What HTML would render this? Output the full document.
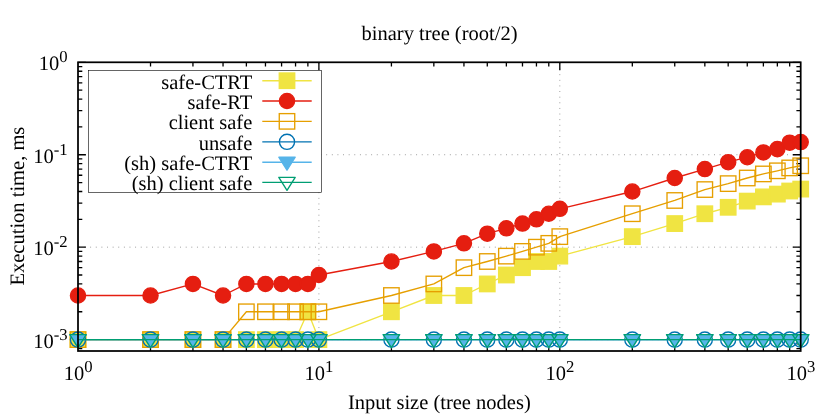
<!DOCTYPE html>
<html><head><meta charset="utf-8"><title>binary tree (root/2)</title>
<style>html,body{margin:0;padding:0;background:#fff}svg{display:block;will-change:transform}text{text-rendering:geometricPrecision;font-family:"Liberation Serif",serif;fill:#000}</style></head><body>
<svg width="830" height="415" viewBox="0 0 830 415">
<rect width="830" height="415" fill="#fff"/>
<path d="M318.90 62.30V351.00M559.80 62.30V351.00" fill="none" stroke="#858585" stroke-width="0.85" stroke-dasharray="0.9 4.72" stroke-dashoffset="-0.7"/>
<path d="M78.00 154.73H800.70M78.00 247.17H800.70M78.00 339.60H800.70" fill="none" stroke="#858585" stroke-width="0.85" stroke-dasharray="0.9 4.72" stroke-dashoffset="-0.95"/>
<path d="M150.52 351.00v-4.3M150.52 62.30v4.3M192.94 351.00v-4.3M192.94 62.30v4.3M223.04 351.00v-4.3M223.04 62.30v4.3M246.38 351.00v-4.3M246.38 62.30v4.3M265.46 351.00v-4.3M265.46 62.30v4.3M281.58 351.00v-4.3M281.58 62.30v4.3M295.55 351.00v-4.3M295.55 62.30v4.3M307.88 351.00v-4.3M307.88 62.30v4.3M318.90 351.00v-7.9M318.90 62.30v7.9M391.42 351.00v-4.3M391.42 62.30v4.3M433.84 351.00v-4.3M433.84 62.30v4.3M463.94 351.00v-4.3M463.94 62.30v4.3M487.28 351.00v-4.3M487.28 62.30v4.3M506.36 351.00v-4.3M506.36 62.30v4.3M522.48 351.00v-4.3M522.48 62.30v4.3M536.45 351.00v-4.3M536.45 62.30v4.3M548.78 351.00v-4.3M548.78 62.30v4.3M559.80 351.00v-7.9M559.80 62.30v7.9M632.32 351.00v-4.3M632.32 62.30v4.3M674.74 351.00v-4.3M674.74 62.30v4.3M704.84 351.00v-4.3M704.84 62.30v4.3M728.18 351.00v-4.3M728.18 62.30v4.3M747.26 351.00v-4.3M747.26 62.30v4.3M763.38 351.00v-4.3M763.38 62.30v4.3M777.35 351.00v-4.3M777.35 62.30v4.3M789.68 351.00v-4.3M789.68 62.30v4.3M78.00 348.56h4.3M800.70 348.56h-4.3M78.00 343.83h4.3M800.70 343.83h-4.3M78.00 339.60h7.9M800.70 339.60h-7.9M78.00 311.77h4.3M800.70 311.77h-4.3M78.00 295.50h4.3M800.70 295.50h-4.3M78.00 283.95h4.3M800.70 283.95h-4.3M78.00 274.99h4.3M800.70 274.99h-4.3M78.00 267.67h4.3M800.70 267.67h-4.3M78.00 261.48h4.3M800.70 261.48h-4.3M78.00 256.12h4.3M800.70 256.12h-4.3M78.00 251.40h4.3M800.70 251.40h-4.3M78.00 247.17h7.9M800.70 247.17h-7.9M78.00 219.34h4.3M800.70 219.34h-4.3M78.00 203.06h4.3M800.70 203.06h-4.3M78.00 191.52h4.3M800.70 191.52h-4.3M78.00 182.56h4.3M800.70 182.56h-4.3M78.00 175.24h4.3M800.70 175.24h-4.3M78.00 169.05h4.3M800.70 169.05h-4.3M78.00 163.69h4.3M800.70 163.69h-4.3M78.00 158.96h4.3M800.70 158.96h-4.3M78.00 154.73h7.9M800.70 154.73h-7.9M78.00 126.91h4.3M800.70 126.91h-4.3M78.00 110.63h4.3M800.70 110.63h-4.3M78.00 99.08h4.3M800.70 99.08h-4.3M78.00 90.13h4.3M800.70 90.13h-4.3M78.00 82.81h4.3M800.70 82.81h-4.3M78.00 76.62h4.3M800.70 76.62h-4.3M78.00 71.26h4.3M800.70 71.26h-4.3M78.00 66.53h4.3M800.70 66.53h-4.3M78.00 62.30h7.9M800.70 62.30h-7.9" fill="none" stroke="#000" stroke-width="1.3"/>
<rect x="88.5" y="70.45" width="233.10000000000002" height="121.85000000000001" fill="#fff" stroke="none"/>
<text x="252.3" y="88.55" font-size="20.5" text-anchor="end">safe-CTRT</text>
<path d="M262.3 80.70H311.7" stroke="#F0E442" stroke-width="1.35" fill="none"/>
<rect x="279.27" y="72.98" width="15.45" height="15.45" fill="#F0E442" stroke="#F0E442" stroke-width="1.35"/>
<polyline points="78.00,339.60 150.52,339.60 192.94,339.60 223.04,339.60 246.38,339.60 265.46,339.60 281.58,339.60 295.55,339.60 307.88,311.77 318.90,339.60 391.42,311.77 433.84,295.50 463.94,295.50 487.28,283.95 506.36,274.99 522.48,267.67 536.45,261.48 548.78,261.48 559.80,256.12 632.32,236.63 674.74,223.57 704.84,213.73 728.18,207.29 747.26,201.11 763.38,196.88 777.35,194.11 789.68,191.02 800.70,189.08" fill="none" stroke="#F0E442" stroke-width="1.35" stroke-linejoin="round"/>
<rect x="70.28" y="331.88" width="15.45" height="15.45" fill="#F0E442" stroke="#F0E442" stroke-width="1.35"/>
<rect x="142.79" y="331.88" width="15.45" height="15.45" fill="#F0E442" stroke="#F0E442" stroke-width="1.35"/>
<rect x="185.21" y="331.88" width="15.45" height="15.45" fill="#F0E442" stroke="#F0E442" stroke-width="1.35"/>
<rect x="215.31" y="331.88" width="15.45" height="15.45" fill="#F0E442" stroke="#F0E442" stroke-width="1.35"/>
<rect x="238.66" y="331.88" width="15.45" height="15.45" fill="#F0E442" stroke="#F0E442" stroke-width="1.35"/>
<rect x="257.73" y="331.88" width="15.45" height="15.45" fill="#F0E442" stroke="#F0E442" stroke-width="1.35"/>
<rect x="273.86" y="331.88" width="15.45" height="15.45" fill="#F0E442" stroke="#F0E442" stroke-width="1.35"/>
<rect x="287.83" y="331.88" width="15.45" height="15.45" fill="#F0E442" stroke="#F0E442" stroke-width="1.35"/>
<rect x="300.15" y="304.05" width="15.45" height="15.45" fill="#F0E442" stroke="#F0E442" stroke-width="1.35"/>
<rect x="311.17" y="331.88" width="15.45" height="15.45" fill="#F0E442" stroke="#F0E442" stroke-width="1.35"/>
<rect x="383.69" y="304.05" width="15.45" height="15.45" fill="#F0E442" stroke="#F0E442" stroke-width="1.35"/>
<rect x="426.11" y="287.77" width="15.45" height="15.45" fill="#F0E442" stroke="#F0E442" stroke-width="1.35"/>
<rect x="456.21" y="287.77" width="15.45" height="15.45" fill="#F0E442" stroke="#F0E442" stroke-width="1.35"/>
<rect x="479.56" y="276.22" width="15.45" height="15.45" fill="#F0E442" stroke="#F0E442" stroke-width="1.35"/>
<rect x="498.63" y="267.27" width="15.45" height="15.45" fill="#F0E442" stroke="#F0E442" stroke-width="1.35"/>
<rect x="514.76" y="259.95" width="15.45" height="15.45" fill="#F0E442" stroke="#F0E442" stroke-width="1.35"/>
<rect x="528.73" y="253.76" width="15.45" height="15.45" fill="#F0E442" stroke="#F0E442" stroke-width="1.35"/>
<rect x="541.05" y="253.76" width="15.45" height="15.45" fill="#F0E442" stroke="#F0E442" stroke-width="1.35"/>
<rect x="552.07" y="248.40" width="15.45" height="15.45" fill="#F0E442" stroke="#F0E442" stroke-width="1.35"/>
<rect x="624.59" y="228.91" width="15.45" height="15.45" fill="#F0E442" stroke="#F0E442" stroke-width="1.35"/>
<rect x="667.01" y="215.85" width="15.45" height="15.45" fill="#F0E442" stroke="#F0E442" stroke-width="1.35"/>
<rect x="697.11" y="206.01" width="15.45" height="15.45" fill="#F0E442" stroke="#F0E442" stroke-width="1.35"/>
<rect x="720.46" y="199.57" width="15.45" height="15.45" fill="#F0E442" stroke="#F0E442" stroke-width="1.35"/>
<rect x="739.53" y="193.38" width="15.45" height="15.45" fill="#F0E442" stroke="#F0E442" stroke-width="1.35"/>
<rect x="755.66" y="189.15" width="15.45" height="15.45" fill="#F0E442" stroke="#F0E442" stroke-width="1.35"/>
<rect x="769.63" y="186.38" width="15.45" height="15.45" fill="#F0E442" stroke="#F0E442" stroke-width="1.35"/>
<rect x="781.95" y="183.29" width="15.45" height="15.45" fill="#F0E442" stroke="#F0E442" stroke-width="1.35"/>
<rect x="792.98" y="181.36" width="15.45" height="15.45" fill="#F0E442" stroke="#F0E442" stroke-width="1.35"/>
<text x="252.3" y="108.85" font-size="20.5" text-anchor="end">safe-RT</text>
<path d="M262.3 101.00H311.7" stroke="#E51E10" stroke-width="1.35" fill="none"/>
<circle cx="287.00" cy="101.00" r="7.59" fill="#E51E10" stroke="#E51E10" stroke-width="1.35"/>
<polyline points="78.00,295.50 150.52,295.50 192.94,283.95 223.04,295.50 246.38,283.95 265.46,283.95 281.58,283.95 295.55,283.95 307.88,283.95 318.90,274.99 391.42,261.48 433.84,251.40 463.94,243.34 487.28,233.66 506.36,228.30 522.48,223.57 536.45,219.34 548.78,213.73 559.80,208.81 632.32,191.52 674.74,178.01 704.84,169.05 728.18,162.21 747.26,157.22 763.38,152.39 777.35,149.12 789.68,142.69 800.70,142.10" fill="none" stroke="#E51E10" stroke-width="1.35" stroke-linejoin="round"/>
<circle cx="78.00" cy="295.50" r="7.59" fill="#E51E10" stroke="#E51E10" stroke-width="1.35"/>
<circle cx="150.52" cy="295.50" r="7.59" fill="#E51E10" stroke="#E51E10" stroke-width="1.35"/>
<circle cx="192.94" cy="283.95" r="7.59" fill="#E51E10" stroke="#E51E10" stroke-width="1.35"/>
<circle cx="223.04" cy="295.50" r="7.59" fill="#E51E10" stroke="#E51E10" stroke-width="1.35"/>
<circle cx="246.38" cy="283.95" r="7.59" fill="#E51E10" stroke="#E51E10" stroke-width="1.35"/>
<circle cx="265.46" cy="283.95" r="7.59" fill="#E51E10" stroke="#E51E10" stroke-width="1.35"/>
<circle cx="281.58" cy="283.95" r="7.59" fill="#E51E10" stroke="#E51E10" stroke-width="1.35"/>
<circle cx="295.55" cy="283.95" r="7.59" fill="#E51E10" stroke="#E51E10" stroke-width="1.35"/>
<circle cx="307.88" cy="283.95" r="7.59" fill="#E51E10" stroke="#E51E10" stroke-width="1.35"/>
<circle cx="318.90" cy="274.99" r="7.59" fill="#E51E10" stroke="#E51E10" stroke-width="1.35"/>
<circle cx="391.42" cy="261.48" r="7.59" fill="#E51E10" stroke="#E51E10" stroke-width="1.35"/>
<circle cx="433.84" cy="251.40" r="7.59" fill="#E51E10" stroke="#E51E10" stroke-width="1.35"/>
<circle cx="463.94" cy="243.34" r="7.59" fill="#E51E10" stroke="#E51E10" stroke-width="1.35"/>
<circle cx="487.28" cy="233.66" r="7.59" fill="#E51E10" stroke="#E51E10" stroke-width="1.35"/>
<circle cx="506.36" cy="228.30" r="7.59" fill="#E51E10" stroke="#E51E10" stroke-width="1.35"/>
<circle cx="522.48" cy="223.57" r="7.59" fill="#E51E10" stroke="#E51E10" stroke-width="1.35"/>
<circle cx="536.45" cy="219.34" r="7.59" fill="#E51E10" stroke="#E51E10" stroke-width="1.35"/>
<circle cx="548.78" cy="213.73" r="7.59" fill="#E51E10" stroke="#E51E10" stroke-width="1.35"/>
<circle cx="559.80" cy="208.81" r="7.59" fill="#E51E10" stroke="#E51E10" stroke-width="1.35"/>
<circle cx="632.32" cy="191.52" r="7.59" fill="#E51E10" stroke="#E51E10" stroke-width="1.35"/>
<circle cx="674.74" cy="178.01" r="7.59" fill="#E51E10" stroke="#E51E10" stroke-width="1.35"/>
<circle cx="704.84" cy="169.05" r="7.59" fill="#E51E10" stroke="#E51E10" stroke-width="1.35"/>
<circle cx="728.18" cy="162.21" r="7.59" fill="#E51E10" stroke="#E51E10" stroke-width="1.35"/>
<circle cx="747.26" cy="157.22" r="7.59" fill="#E51E10" stroke="#E51E10" stroke-width="1.35"/>
<circle cx="763.38" cy="152.39" r="7.59" fill="#E51E10" stroke="#E51E10" stroke-width="1.35"/>
<circle cx="777.35" cy="149.12" r="7.59" fill="#E51E10" stroke="#E51E10" stroke-width="1.35"/>
<circle cx="789.68" cy="142.69" r="7.59" fill="#E51E10" stroke="#E51E10" stroke-width="1.35"/>
<circle cx="800.70" cy="142.10" r="7.59" fill="#E51E10" stroke="#E51E10" stroke-width="1.35"/>
<text x="252.3" y="129.20" font-size="20.5" text-anchor="end">client safe</text>
<path d="M262.3 121.35H311.7" stroke="#E69F00" stroke-width="1.35" fill="none"/>
<rect x="279.27" y="113.62" width="15.45" height="15.45" fill="none" stroke="#E69F00" stroke-width="1.35"/>
<polyline points="78.00,339.60 150.52,339.60 192.94,339.60 223.04,339.60 246.38,311.77 265.46,311.77 281.58,311.77 295.55,311.77 307.88,311.77 318.90,311.77 391.42,295.50 433.84,283.95 463.94,267.67 487.28,261.48 506.36,256.12 522.48,251.40 536.45,247.17 548.78,243.34 559.80,236.63 632.32,213.73 674.74,200.47 704.84,189.56 728.18,183.62 747.26,178.01 763.38,173.92 777.35,170.81 789.68,167.92 800.70,165.75" fill="none" stroke="#E69F00" stroke-width="1.35" stroke-linejoin="round"/>
<rect x="70.28" y="331.88" width="15.45" height="15.45" fill="none" stroke="#E69F00" stroke-width="1.35"/>
<rect x="142.79" y="331.88" width="15.45" height="15.45" fill="none" stroke="#E69F00" stroke-width="1.35"/>
<rect x="185.21" y="331.88" width="15.45" height="15.45" fill="none" stroke="#E69F00" stroke-width="1.35"/>
<rect x="215.31" y="331.88" width="15.45" height="15.45" fill="none" stroke="#E69F00" stroke-width="1.35"/>
<rect x="238.66" y="304.05" width="15.45" height="15.45" fill="none" stroke="#E69F00" stroke-width="1.35"/>
<rect x="257.73" y="304.05" width="15.45" height="15.45" fill="none" stroke="#E69F00" stroke-width="1.35"/>
<rect x="273.86" y="304.05" width="15.45" height="15.45" fill="none" stroke="#E69F00" stroke-width="1.35"/>
<rect x="287.83" y="304.05" width="15.45" height="15.45" fill="none" stroke="#E69F00" stroke-width="1.35"/>
<rect x="300.15" y="304.05" width="15.45" height="15.45" fill="none" stroke="#E69F00" stroke-width="1.35"/>
<rect x="311.17" y="304.05" width="15.45" height="15.45" fill="none" stroke="#E69F00" stroke-width="1.35"/>
<rect x="383.69" y="287.77" width="15.45" height="15.45" fill="none" stroke="#E69F00" stroke-width="1.35"/>
<rect x="426.11" y="276.22" width="15.45" height="15.45" fill="none" stroke="#E69F00" stroke-width="1.35"/>
<rect x="456.21" y="259.95" width="15.45" height="15.45" fill="none" stroke="#E69F00" stroke-width="1.35"/>
<rect x="479.56" y="253.76" width="15.45" height="15.45" fill="none" stroke="#E69F00" stroke-width="1.35"/>
<rect x="498.63" y="248.40" width="15.45" height="15.45" fill="none" stroke="#E69F00" stroke-width="1.35"/>
<rect x="514.76" y="243.67" width="15.45" height="15.45" fill="none" stroke="#E69F00" stroke-width="1.35"/>
<rect x="528.73" y="239.44" width="15.45" height="15.45" fill="none" stroke="#E69F00" stroke-width="1.35"/>
<rect x="541.05" y="235.62" width="15.45" height="15.45" fill="none" stroke="#E69F00" stroke-width="1.35"/>
<rect x="552.07" y="228.91" width="15.45" height="15.45" fill="none" stroke="#E69F00" stroke-width="1.35"/>
<rect x="624.59" y="206.01" width="15.45" height="15.45" fill="none" stroke="#E69F00" stroke-width="1.35"/>
<rect x="667.01" y="192.75" width="15.45" height="15.45" fill="none" stroke="#E69F00" stroke-width="1.35"/>
<rect x="697.11" y="181.83" width="15.45" height="15.45" fill="none" stroke="#E69F00" stroke-width="1.35"/>
<rect x="720.46" y="175.89" width="15.45" height="15.45" fill="none" stroke="#E69F00" stroke-width="1.35"/>
<rect x="739.53" y="170.28" width="15.45" height="15.45" fill="none" stroke="#E69F00" stroke-width="1.35"/>
<rect x="755.66" y="166.20" width="15.45" height="15.45" fill="none" stroke="#E69F00" stroke-width="1.35"/>
<rect x="769.63" y="163.08" width="15.45" height="15.45" fill="none" stroke="#E69F00" stroke-width="1.35"/>
<rect x="781.95" y="160.20" width="15.45" height="15.45" fill="none" stroke="#E69F00" stroke-width="1.35"/>
<rect x="792.98" y="158.03" width="15.45" height="15.45" fill="none" stroke="#E69F00" stroke-width="1.35"/>
<text x="252.3" y="149.65" font-size="20.5" text-anchor="end">unsafe</text>
<path d="M262.3 141.80H311.7" stroke="#0072B2" stroke-width="1.35" fill="none"/>
<circle cx="287.00" cy="141.80" r="7.59" fill="none" stroke="#0072B2" stroke-width="1.35"/>
<polyline points="78.00,339.60 150.52,339.60 192.94,339.60 223.04,339.60 246.38,339.60 265.46,339.60 281.58,339.60 295.55,339.60 307.88,339.60 318.90,339.60 391.42,339.60 433.84,339.60 463.94,339.60 487.28,339.60 506.36,339.60 522.48,339.60 536.45,339.60 548.78,339.60 559.80,339.60 632.32,339.60 674.74,339.60 704.84,339.60 728.18,339.60 747.26,339.60 763.38,339.60 777.35,339.60 789.68,339.60 800.70,339.60" fill="none" stroke="#0072B2" stroke-width="1.35" stroke-linejoin="round"/>
<circle cx="78.00" cy="339.60" r="7.59" fill="none" stroke="#0072B2" stroke-width="1.35"/>
<circle cx="150.52" cy="339.60" r="7.59" fill="none" stroke="#0072B2" stroke-width="1.35"/>
<circle cx="192.94" cy="339.60" r="7.59" fill="none" stroke="#0072B2" stroke-width="1.35"/>
<circle cx="223.04" cy="339.60" r="7.59" fill="none" stroke="#0072B2" stroke-width="1.35"/>
<circle cx="246.38" cy="339.60" r="7.59" fill="none" stroke="#0072B2" stroke-width="1.35"/>
<circle cx="265.46" cy="339.60" r="7.59" fill="none" stroke="#0072B2" stroke-width="1.35"/>
<circle cx="281.58" cy="339.60" r="7.59" fill="none" stroke="#0072B2" stroke-width="1.35"/>
<circle cx="295.55" cy="339.60" r="7.59" fill="none" stroke="#0072B2" stroke-width="1.35"/>
<circle cx="307.88" cy="339.60" r="7.59" fill="none" stroke="#0072B2" stroke-width="1.35"/>
<circle cx="318.90" cy="339.60" r="7.59" fill="none" stroke="#0072B2" stroke-width="1.35"/>
<circle cx="391.42" cy="339.60" r="7.59" fill="none" stroke="#0072B2" stroke-width="1.35"/>
<circle cx="433.84" cy="339.60" r="7.59" fill="none" stroke="#0072B2" stroke-width="1.35"/>
<circle cx="463.94" cy="339.60" r="7.59" fill="none" stroke="#0072B2" stroke-width="1.35"/>
<circle cx="487.28" cy="339.60" r="7.59" fill="none" stroke="#0072B2" stroke-width="1.35"/>
<circle cx="506.36" cy="339.60" r="7.59" fill="none" stroke="#0072B2" stroke-width="1.35"/>
<circle cx="522.48" cy="339.60" r="7.59" fill="none" stroke="#0072B2" stroke-width="1.35"/>
<circle cx="536.45" cy="339.60" r="7.59" fill="none" stroke="#0072B2" stroke-width="1.35"/>
<circle cx="548.78" cy="339.60" r="7.59" fill="none" stroke="#0072B2" stroke-width="1.35"/>
<circle cx="559.80" cy="339.60" r="7.59" fill="none" stroke="#0072B2" stroke-width="1.35"/>
<circle cx="632.32" cy="339.60" r="7.59" fill="none" stroke="#0072B2" stroke-width="1.35"/>
<circle cx="674.74" cy="339.60" r="7.59" fill="none" stroke="#0072B2" stroke-width="1.35"/>
<circle cx="704.84" cy="339.60" r="7.59" fill="none" stroke="#0072B2" stroke-width="1.35"/>
<circle cx="728.18" cy="339.60" r="7.59" fill="none" stroke="#0072B2" stroke-width="1.35"/>
<circle cx="747.26" cy="339.60" r="7.59" fill="none" stroke="#0072B2" stroke-width="1.35"/>
<circle cx="763.38" cy="339.60" r="7.59" fill="none" stroke="#0072B2" stroke-width="1.35"/>
<circle cx="777.35" cy="339.60" r="7.59" fill="none" stroke="#0072B2" stroke-width="1.35"/>
<circle cx="789.68" cy="339.60" r="7.59" fill="none" stroke="#0072B2" stroke-width="1.35"/>
<circle cx="800.70" cy="339.60" r="7.59" fill="none" stroke="#0072B2" stroke-width="1.35"/>
<text x="252.3" y="170.10" font-size="20.5" text-anchor="end">(sh) safe-CTRT</text>
<path d="M262.3 162.25H311.7" stroke="#56B4E9" stroke-width="1.35" fill="none"/>
<path d="M278.80 157.25h16.4L287.00 170.25Z" fill="#56B4E9" stroke="#56B4E9" stroke-width="1.35" stroke-linejoin="round"/>
<polyline points="78.00,339.60 150.52,339.60 192.94,339.60 223.04,339.60 246.38,339.60 265.46,339.60 281.58,339.60 295.55,339.60 307.88,339.60 318.90,339.60 391.42,339.60 433.84,339.60 463.94,339.60 487.28,339.60 506.36,339.60 522.48,339.60 536.45,339.60 548.78,339.60 559.80,339.60 632.32,339.60 674.74,339.60 704.84,339.60 728.18,339.60 747.26,339.60 763.38,339.60 777.35,339.60 789.68,339.60 800.70,339.60" fill="none" stroke="#56B4E9" stroke-width="1.35" stroke-linejoin="round"/>
<path d="M69.80 334.60h16.4L78.00 347.60Z" fill="#56B4E9" stroke="#56B4E9" stroke-width="1.35" stroke-linejoin="round"/>
<path d="M142.32 334.60h16.4L150.52 347.60Z" fill="#56B4E9" stroke="#56B4E9" stroke-width="1.35" stroke-linejoin="round"/>
<path d="M184.74 334.60h16.4L192.94 347.60Z" fill="#56B4E9" stroke="#56B4E9" stroke-width="1.35" stroke-linejoin="round"/>
<path d="M214.84 334.60h16.4L223.04 347.60Z" fill="#56B4E9" stroke="#56B4E9" stroke-width="1.35" stroke-linejoin="round"/>
<path d="M238.18 334.60h16.4L246.38 347.60Z" fill="#56B4E9" stroke="#56B4E9" stroke-width="1.35" stroke-linejoin="round"/>
<path d="M257.26 334.60h16.4L265.46 347.60Z" fill="#56B4E9" stroke="#56B4E9" stroke-width="1.35" stroke-linejoin="round"/>
<path d="M273.38 334.60h16.4L281.58 347.60Z" fill="#56B4E9" stroke="#56B4E9" stroke-width="1.35" stroke-linejoin="round"/>
<path d="M287.35 334.60h16.4L295.55 347.60Z" fill="#56B4E9" stroke="#56B4E9" stroke-width="1.35" stroke-linejoin="round"/>
<path d="M299.68 334.60h16.4L307.88 347.60Z" fill="#56B4E9" stroke="#56B4E9" stroke-width="1.35" stroke-linejoin="round"/>
<path d="M310.70 334.60h16.4L318.90 347.60Z" fill="#56B4E9" stroke="#56B4E9" stroke-width="1.35" stroke-linejoin="round"/>
<path d="M383.22 334.60h16.4L391.42 347.60Z" fill="#56B4E9" stroke="#56B4E9" stroke-width="1.35" stroke-linejoin="round"/>
<path d="M425.64 334.60h16.4L433.84 347.60Z" fill="#56B4E9" stroke="#56B4E9" stroke-width="1.35" stroke-linejoin="round"/>
<path d="M455.74 334.60h16.4L463.94 347.60Z" fill="#56B4E9" stroke="#56B4E9" stroke-width="1.35" stroke-linejoin="round"/>
<path d="M479.08 334.60h16.4L487.28 347.60Z" fill="#56B4E9" stroke="#56B4E9" stroke-width="1.35" stroke-linejoin="round"/>
<path d="M498.16 334.60h16.4L506.36 347.60Z" fill="#56B4E9" stroke="#56B4E9" stroke-width="1.35" stroke-linejoin="round"/>
<path d="M514.28 334.60h16.4L522.48 347.60Z" fill="#56B4E9" stroke="#56B4E9" stroke-width="1.35" stroke-linejoin="round"/>
<path d="M528.25 334.60h16.4L536.45 347.60Z" fill="#56B4E9" stroke="#56B4E9" stroke-width="1.35" stroke-linejoin="round"/>
<path d="M540.58 334.60h16.4L548.78 347.60Z" fill="#56B4E9" stroke="#56B4E9" stroke-width="1.35" stroke-linejoin="round"/>
<path d="M551.60 334.60h16.4L559.80 347.60Z" fill="#56B4E9" stroke="#56B4E9" stroke-width="1.35" stroke-linejoin="round"/>
<path d="M624.12 334.60h16.4L632.32 347.60Z" fill="#56B4E9" stroke="#56B4E9" stroke-width="1.35" stroke-linejoin="round"/>
<path d="M666.54 334.60h16.4L674.74 347.60Z" fill="#56B4E9" stroke="#56B4E9" stroke-width="1.35" stroke-linejoin="round"/>
<path d="M696.64 334.60h16.4L704.84 347.60Z" fill="#56B4E9" stroke="#56B4E9" stroke-width="1.35" stroke-linejoin="round"/>
<path d="M719.98 334.60h16.4L728.18 347.60Z" fill="#56B4E9" stroke="#56B4E9" stroke-width="1.35" stroke-linejoin="round"/>
<path d="M739.06 334.60h16.4L747.26 347.60Z" fill="#56B4E9" stroke="#56B4E9" stroke-width="1.35" stroke-linejoin="round"/>
<path d="M755.18 334.60h16.4L763.38 347.60Z" fill="#56B4E9" stroke="#56B4E9" stroke-width="1.35" stroke-linejoin="round"/>
<path d="M769.15 334.60h16.4L777.35 347.60Z" fill="#56B4E9" stroke="#56B4E9" stroke-width="1.35" stroke-linejoin="round"/>
<path d="M781.48 334.60h16.4L789.68 347.60Z" fill="#56B4E9" stroke="#56B4E9" stroke-width="1.35" stroke-linejoin="round"/>
<path d="M792.50 334.60h16.4L800.70 347.60Z" fill="#56B4E9" stroke="#56B4E9" stroke-width="1.35" stroke-linejoin="round"/>
<text x="252.3" y="190.25" font-size="20.5" text-anchor="end">(sh) client safe</text>
<path d="M262.3 182.40H311.7" stroke="#009E73" stroke-width="1.35" fill="none"/>
<path d="M278.80 177.40h16.4L287.00 190.40Z" fill="none" stroke="#009E73" stroke-width="1.35" stroke-linejoin="round"/>
<polyline points="78.00,339.60 150.52,339.60 192.94,339.60 223.04,339.60 246.38,339.60 265.46,339.60 281.58,339.60 295.55,339.60 307.88,339.60 318.90,339.60 391.42,339.60 433.84,339.60 463.94,339.60 487.28,339.60 506.36,339.60 522.48,339.60 536.45,339.60 548.78,339.60 559.80,339.60 632.32,339.60 674.74,339.60 704.84,339.60 728.18,339.60 747.26,339.60 763.38,339.60 777.35,339.60 789.68,339.60 800.70,339.60" fill="none" stroke="#009E73" stroke-width="1.35" stroke-linejoin="round"/>
<path d="M69.80 334.60h16.4L78.00 347.60Z" fill="none" stroke="#009E73" stroke-width="1.35" stroke-linejoin="round"/>
<path d="M142.32 334.60h16.4L150.52 347.60Z" fill="none" stroke="#009E73" stroke-width="1.35" stroke-linejoin="round"/>
<path d="M184.74 334.60h16.4L192.94 347.60Z" fill="none" stroke="#009E73" stroke-width="1.35" stroke-linejoin="round"/>
<path d="M214.84 334.60h16.4L223.04 347.60Z" fill="none" stroke="#009E73" stroke-width="1.35" stroke-linejoin="round"/>
<path d="M238.18 334.60h16.4L246.38 347.60Z" fill="none" stroke="#009E73" stroke-width="1.35" stroke-linejoin="round"/>
<path d="M257.26 334.60h16.4L265.46 347.60Z" fill="none" stroke="#009E73" stroke-width="1.35" stroke-linejoin="round"/>
<path d="M273.38 334.60h16.4L281.58 347.60Z" fill="none" stroke="#009E73" stroke-width="1.35" stroke-linejoin="round"/>
<path d="M287.35 334.60h16.4L295.55 347.60Z" fill="none" stroke="#009E73" stroke-width="1.35" stroke-linejoin="round"/>
<path d="M299.68 334.60h16.4L307.88 347.60Z" fill="none" stroke="#009E73" stroke-width="1.35" stroke-linejoin="round"/>
<path d="M310.70 334.60h16.4L318.90 347.60Z" fill="none" stroke="#009E73" stroke-width="1.35" stroke-linejoin="round"/>
<path d="M383.22 334.60h16.4L391.42 347.60Z" fill="none" stroke="#009E73" stroke-width="1.35" stroke-linejoin="round"/>
<path d="M425.64 334.60h16.4L433.84 347.60Z" fill="none" stroke="#009E73" stroke-width="1.35" stroke-linejoin="round"/>
<path d="M455.74 334.60h16.4L463.94 347.60Z" fill="none" stroke="#009E73" stroke-width="1.35" stroke-linejoin="round"/>
<path d="M479.08 334.60h16.4L487.28 347.60Z" fill="none" stroke="#009E73" stroke-width="1.35" stroke-linejoin="round"/>
<path d="M498.16 334.60h16.4L506.36 347.60Z" fill="none" stroke="#009E73" stroke-width="1.35" stroke-linejoin="round"/>
<path d="M514.28 334.60h16.4L522.48 347.60Z" fill="none" stroke="#009E73" stroke-width="1.35" stroke-linejoin="round"/>
<path d="M528.25 334.60h16.4L536.45 347.60Z" fill="none" stroke="#009E73" stroke-width="1.35" stroke-linejoin="round"/>
<path d="M540.58 334.60h16.4L548.78 347.60Z" fill="none" stroke="#009E73" stroke-width="1.35" stroke-linejoin="round"/>
<path d="M551.60 334.60h16.4L559.80 347.60Z" fill="none" stroke="#009E73" stroke-width="1.35" stroke-linejoin="round"/>
<path d="M624.12 334.60h16.4L632.32 347.60Z" fill="none" stroke="#009E73" stroke-width="1.35" stroke-linejoin="round"/>
<path d="M666.54 334.60h16.4L674.74 347.60Z" fill="none" stroke="#009E73" stroke-width="1.35" stroke-linejoin="round"/>
<path d="M696.64 334.60h16.4L704.84 347.60Z" fill="none" stroke="#009E73" stroke-width="1.35" stroke-linejoin="round"/>
<path d="M719.98 334.60h16.4L728.18 347.60Z" fill="none" stroke="#009E73" stroke-width="1.35" stroke-linejoin="round"/>
<path d="M739.06 334.60h16.4L747.26 347.60Z" fill="none" stroke="#009E73" stroke-width="1.35" stroke-linejoin="round"/>
<path d="M755.18 334.60h16.4L763.38 347.60Z" fill="none" stroke="#009E73" stroke-width="1.35" stroke-linejoin="round"/>
<path d="M769.15 334.60h16.4L777.35 347.60Z" fill="none" stroke="#009E73" stroke-width="1.35" stroke-linejoin="round"/>
<path d="M781.48 334.60h16.4L789.68 347.60Z" fill="none" stroke="#009E73" stroke-width="1.35" stroke-linejoin="round"/>
<path d="M792.50 334.60h16.4L800.70 347.60Z" fill="none" stroke="#009E73" stroke-width="1.35" stroke-linejoin="round"/>
<rect x="88.5" y="70.45" width="233.10000000000002" height="121.85000000000001" fill="none" stroke="#000" stroke-width="0.6"/>
<rect x="78.0" y="62.3" width="722.70" height="288.70" fill="none" stroke="#000" stroke-width="1.75"/>
<text x="78.10" y="379.90" font-size="20.5" text-anchor="middle">10<tspan font-size="16.7" dy="-7.9">0</tspan></text>
<text x="319.00" y="379.90" font-size="20.5" text-anchor="middle">10<tspan font-size="16.7" dy="-7.9">1</tspan></text>
<text x="559.90" y="379.90" font-size="20.5" text-anchor="middle">10<tspan font-size="16.7" dy="-7.9">2</tspan></text>
<text x="800.80" y="379.90" font-size="20.5" text-anchor="middle">10<tspan font-size="16.7" dy="-7.9">3</tspan></text>
<text x="67.60" y="347.50" font-size="20.5" text-anchor="end">10<tspan font-size="16.7" dy="-7.9">-3</tspan></text>
<text x="67.60" y="255.07" font-size="20.5" text-anchor="end">10<tspan font-size="16.7" dy="-7.9">-2</tspan></text>
<text x="67.60" y="162.63" font-size="20.5" text-anchor="end">10<tspan font-size="16.7" dy="-7.9">-1</tspan></text>
<text x="67.60" y="70.20" font-size="20.5" text-anchor="end">10<tspan font-size="16.7" dy="-7.9">0</tspan></text>
<text x="439.5" y="40.0" font-size="20.5" text-anchor="middle">binary tree (root/2)</text>
<text x="439.4" y="409.1" font-size="20.5" text-anchor="middle">Input size (tree nodes)</text>
<text transform="translate(24.0 206.1) rotate(-90)" font-size="20.5" text-anchor="middle">Execution time, ms</text>
</svg></body></html>
